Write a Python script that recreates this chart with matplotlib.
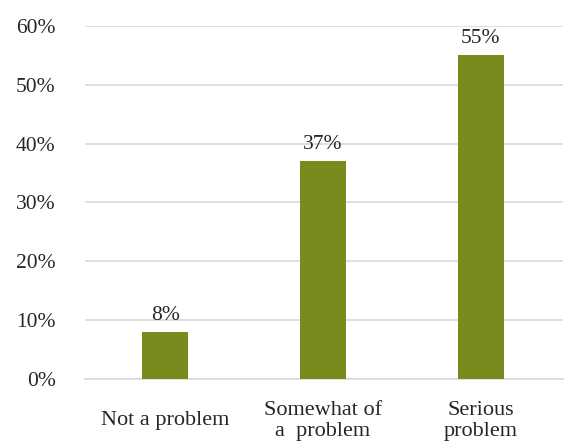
import matplotlib.pyplot as plt
from matplotlib.ticker import PercentFormatter

categories = ["Not a problem", "Somewhat of\na  problem", "Serious\nproblem"]
values = [8, 37, 55]
yticks = [0, 10, 20, 30, 40, 50, 60]

bar_color = "#7a8b1d"
text_color = "#262626"

plt.rcParams['font.family'] = ['Liberation Serif', 'DejaVu Serif']

fig = plt.figure(figsize=(5.65, 4.45), dpi=100)
ax = fig.add_axes([0.150, 0.148, 0.846, 0.794])

x = list(range(len(categories)))
bars = ax.bar(x, values, width=0.29, color=bar_color, zorder=3)

for b, v in zip(bars, values):
    ax.text(b.get_x() + b.get_width() / 2, v + 1.2, f"{v}%",
            ha='center', va='bottom', fontsize=15.5, color=text_color)

ax.set_xlim(-0.51, 2.52)
ax.set_ylim(0, 60)
ax.set_yticks(yticks)
ax.yaxis.set_major_formatter(PercentFormatter(decimals=0))
ax.set_xticks(x)
ax.set_xticklabels(categories, fontsize=16, color=text_color,
                   linespacing=1.15)
for lbl in ax.get_xticklabels():
    lbl.set_verticalalignment('center')

ax.tick_params(axis='x', length=0, pad=30)
ax.tick_params(axis='y', length=0, pad=21, labelsize=15.5, labelcolor=text_color)

ax.grid(axis='y', color='#d9d9d9', linewidth=1.2, zorder=0)
for side in ['top', 'right', 'left']:
    ax.spines[side].set_visible(False)
ax.spines['bottom'].set_color('#d9d9d9')
ax.spines['bottom'].set_linewidth(1.2)

fig.savefig("out.png", dpi=100)
